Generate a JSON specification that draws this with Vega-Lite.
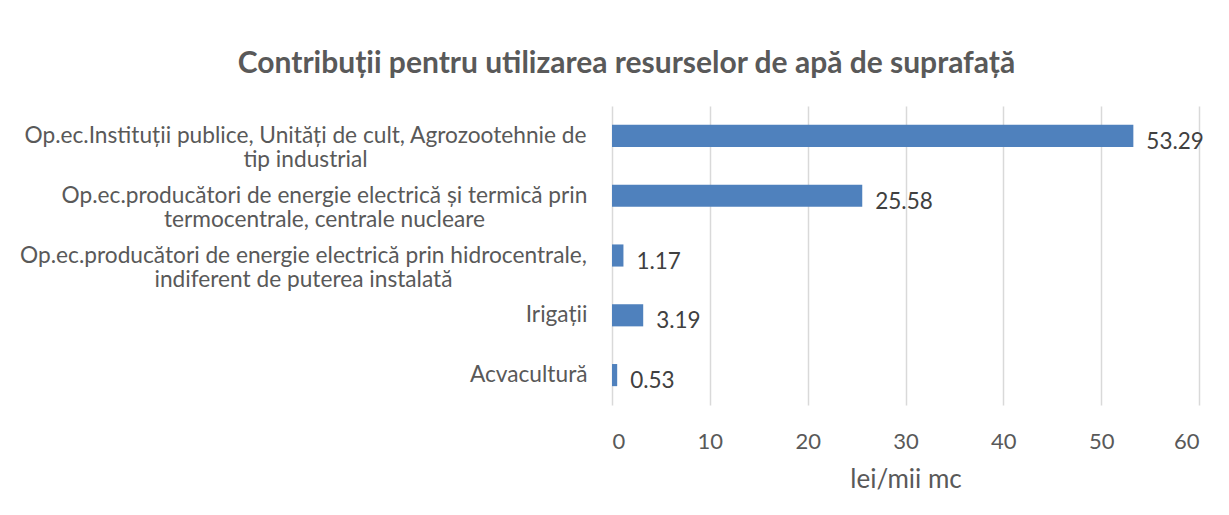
{
  "$schema": "https://vega.github.io/schema/vega-lite/v6.json",
  "autosize": {"type": "none"},
  "width": 587,
  "height": 299,
  "padding": {"left": 612, "top": 106, "right": 30, "bottom": 110},
  "background": "white",
  "title": {
    "text": "Contribuții pentru utilizarea resurselor de apă de suprafață",
    "font": "Lato",
    "fontSize": 30,
    "fontWeight": "bold",
    "color": "#595959",
    "anchor": "middle",
    "frame": "group",
    "dx": -279,
    "offset": 27
  },
  "data": {
    "values": [
      {"categorie": "Op.ec.Instituții publice, Unități de cult, Agrozootehnie de|tip industrial", "valoare": 53.29},
      {"categorie": "Op.ec.producători de energie electrică și termică prin|termocentrale, centrale nucleare", "valoare": 25.58},
      {"categorie": "Op.ec.producători de energie electrică prin hidrocentrale,|indiferent de puterea instalată", "valoare": 1.17},
      {"categorie": "Irigații", "valoare": 3.19},
      {"categorie": "Acvacultură", "valoare": 0.53}
    ]
  },
  "encoding": {
    "y": {
      "field": "categorie",
      "type": "nominal",
      "sort": null,
      "scale": {"paddingInner": 0.63, "paddingOuter": 0.315},
      "axis": {
        "title": null,
        "labelExpr": "split(datum.label, '|')",
        "labelFont": "Lato",
        "labelFontSize": 22.7,
        "labelColor": "#595959",
        "labelLimit": 700,
        "labelAlign": {
          "condition": {"test": "indexof(datum.value, '|') >= 0", "value": "center"},
          "value": "right"
        },
        "labelPadding": {
          "condition": [
            {"test": "indexof(datum.value, 'Agrozootehnie') >= 0", "value": 307},
            {"test": "indexof(datum.value, 'termocentrale') >= 0", "value": 288},
            {"test": "indexof(datum.value, 'hidrocentrale') >= 0", "value": 309}
          ],
          "value": 25
        },
        "labelLineHeight": 24,
        "ticks": false,
        "domain": false,
        "grid": false
      }
    },
    "x": {
      "field": "valoare",
      "type": "quantitative",
      "scale": {"domain": [0, 60], "nice": false},
      "axis": {
        "title": "lei/mii mc",
        "values": [0, 10, 20, 30, 40, 50, 60],
        "titleFont": "Lato",
        "titleFontSize": 26,
        "titleFontWeight": "normal",
        "titleColor": "#595959",
        "titlePadding": 14,
        "labelFont": "Lato",
        "labelFontSize": 22,
        "labelColor": "#595959",
        "labelPadding": 26,
        "ticks": false,
        "domain": false,
        "grid": true,
        "gridColor": "#d9d9d9",
        "gridWidth": 1.5
      }
    }
  },
  "layer": [
    {"mark": {"type": "bar", "color": "#4f81bd"}},
    {
      "mark": {"type": "text", "align": "left", "baseline": "middle", "dx": 13, "dy": 6, "font": "Lato", "fontSize": 22.5, "color": "#404040"},
      "encoding": {"text": {"field": "valoare", "type": "quantitative", "format": ".2f"}}
    }
  ],
  "config": {"view": {"stroke": null}}
}
